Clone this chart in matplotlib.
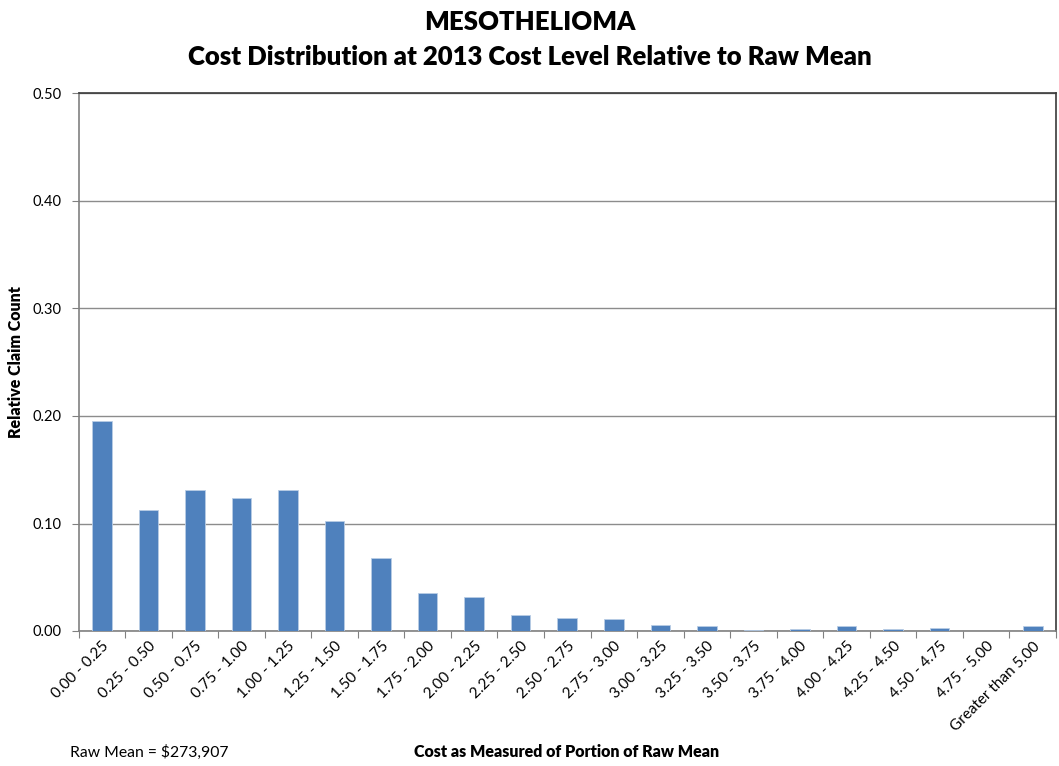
import matplotlib
matplotlib.use("Agg")
import matplotlib.pyplot as plt
import numpy as np

plt.rcParams['font.family'] = ['Lato', 'DejaVu Sans']

categories = ["0.00 - 0.25", "0.25 - 0.50", "0.50 - 0.75", "0.75 - 1.00", "1.00 - 1.25",
              "1.25 - 1.50", "1.50 - 1.75", "1.75 - 2.00", "2.00 - 2.25", "2.25 - 2.50",
              "2.50 - 2.75", "2.75 - 3.00", "3.00 - 3.25", "3.25 - 3.50", "3.50 - 3.75",
              "3.75 - 4.00", "4.00 - 4.25", "4.25 - 4.50", "4.50 - 4.75", "4.75 - 5.00",
              "Greater than 5.00"]
relative_count = [0.195, 0.113, 0.131, 0.124, 0.131, 0.102, 0.068, 0.0355, 0.0315, 0.015,
                  0.0125, 0.0112, 0.0059, 0.0047, 0.0012, 0.0022, 0.0047, 0.0022, 0.0031,
                  0.0, 0.0047]
y_ticks = [0.0, 0.1, 0.2, 0.3, 0.4, 0.5]

W, H = 1059, 766
fig = plt.figure(figsize=(W / 100, H / 100), dpi=100)
ax = fig.add_axes([78.5 / W, 1 - 631 / H, (1056 - 78.5) / W, (631 - 93.5) / H])

x = np.arange(len(categories))
ax.bar(x, relative_count, width=0.42, color="#4f81bd", edgecolor="#b9cde5",
       linewidth=0.6, zorder=3)

ax.set_xlim(-0.5, len(categories) - 0.5)
ax.set_ylim(0, 0.5)
ax.set_yticks(y_ticks)
ax.set_yticklabels([f"{v:.2f}" for v in y_ticks], fontsize=10.5)
ax.yaxis.grid(True, color="#8c8c8c", linewidth=1.0, zorder=0)

# category boundaries carry the tick marks; labels sit under each bar
ax.set_xticks(np.arange(len(categories) + 1) - 0.5)
ax.set_xticklabels([])
ax.tick_params(axis="x", which="major", length=5, color="#808080", direction="out")
ax.set_xticks(x, minor=True)
ax.set_xticklabels(categories, minor=True, rotation=45, ha="right",
                   rotation_mode="anchor", fontsize=11)
ax.tick_params(axis="x", which="minor", length=0, pad=6)
ax.tick_params(axis="y", length=5, color="#808080", pad=7)

for side in ("left", "bottom"):
    ax.spines[side].set_color("#808080")
    ax.spines[side].set_linewidth(1.2)
for side in ("top", "right"):
    ax.spines[side].set_color("#3a3a3a")
    ax.spines[side].set_linewidth(1.2)

ax.set_ylabel("Relative Claim Count", fontsize=11.5, fontweight="heavy", labelpad=6)

fig.text(0.5, 1 - 22 / H, "MESOTHELIOMA", ha="center", va="center",
         fontsize=18.5, fontweight="heavy")
fig.text(0.5, 1 - 57 / H, "Cost Distribution at 2013 Cost Level Relative to Raw Mean",
         ha="center", va="center", fontsize=18.5, fontweight="heavy")
fig.text(567 / W, 1 - 752 / H, "Cost as Measured of Portion of Raw Mean",
         ha="center", va="center", fontsize=11.5, fontweight="heavy")
fig.text(70 / W, 1 - 752 / H, "Raw Mean = $273,907", ha="left", va="center",
         fontsize=11.3)

fig.savefig("out.png", dpi=100)
